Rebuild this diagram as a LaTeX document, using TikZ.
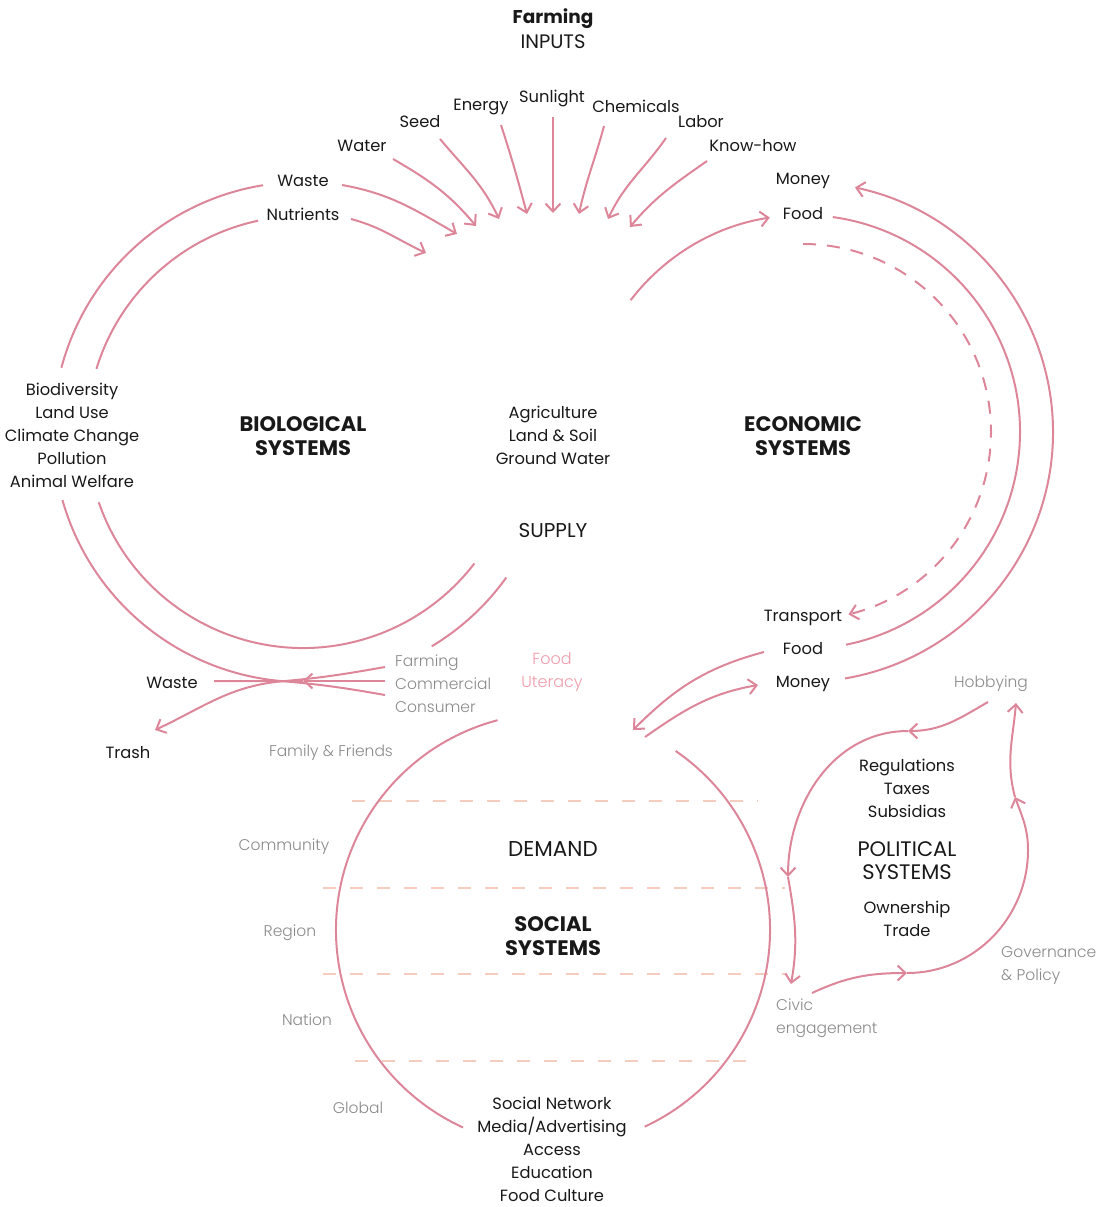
\documentclass[tikz,border=0pt]{standalone}
\usepackage{fontspec}
\setmainfont{Poppins}
\newfontfamily\lightf{Poppins Light}
\usetikzlibrary{arrows.meta}
\definecolor{pk}{RGB}{221,134,153}
\definecolor{pkl}{RGB}{240,155,170}
\definecolor{gr}{RGB}{138,138,138}
\definecolor{tx}{RGB}{25,25,25}
\definecolor{pe}{RGB}{246,204,190}
\begin{document}
\begin{tikzpicture}[x=1pt,y=1pt,
  flow/.style={draw=pk,line width=2pt},
  tip/.style={-{Straight Barb[length=8pt,width=15pt]}},
  dl/.style={draw=pe,line width=2pt,dash pattern=on 13pt off 14pt},
  lbl/.style={text=tx,font=\fontsize{16.3}{23}\selectfont,align=center,inner sep=0pt,yshift=-1pt},
  glbl/.style={text=gr,font=\lightf\fontsize{15.5}{23}\selectfont,align=center,inner sep=0pt,yshift=-1pt},
  plbl/.style={text=pkl,font=\lightf\fontsize{16}{23}\selectfont,align=center,inner sep=0pt,yshift=-1pt},
  ttl/.style={text=tx,font=\bfseries\fontsize{21}{24}\selectfont,align=center,inner sep=0pt,yshift=-1pt},
  capt/.style={text=tx,font=\fontsize{21}{23}\selectfont,align=center,inner sep=0pt,yshift=-1pt}]
\useasboundingbox (0,0) rectangle (1115,-1207);
% ---------- texts
\node[ttl,font=\bfseries\fontsize{18.5}{23}\selectfont] (farm) at (553,-18) {Farming};
\node[capt,font=\fontsize{19.5}{23}\selectfont] (inp) at (553,-41) {INPUTS};
\node[lbl] (nWaste) at (303,-180) {Waste};
\node[lbl] (nNutr) at (303,-213) {Nutrients};
\node[lbl] (nWater) at (362,-145) {Water};
\node[lbl] (nSeed) at (420,-121) {Seed};
\node[lbl] (nEnergy) at (481,-106) {Energy};
\node[lbl] (nSun) at (552,-97) {Sunlight};
\node[lbl] (nChem) at (636,-105) {Chemicals};
\node[lbl] (nLabor) at (701,-121) {Labor};
\node[lbl] (nKnow) at (753,-145) {Know-how};
\node[lbl] (nMoneyT) at (803,-180) {Money};
\node[lbl] (nFoodT) at (803,-213) {Food};
\node[ttl] (bio) at (303,-435) {BIOLOGICAL\\SYSTEMS};
\node[ttl] (eco) at (803,-435) {ECONOMIC\\SYSTEMS};
\node[lbl] (agri) at (553,-434) {Agriculture\\Land \& Soil\\Ground Water};
\node[capt,font=\fontsize{20}{23}\selectfont] (supply) at (553,-530) {SUPPLY};
\node[lbl] (bioList) at (72,-434) {Biodiversity\\Land Use\\Climate Change\\Pollution\\Animal Welfare};
\node[lbl] (transp) at (803,-617) {Transport};
\node[lbl] (foodB) at (803,-648) {Food};
\node[lbl] (moneyB) at (803,-683) {Money};
\node[lbl] (wasteL) at (172,-682) {Waste};
\node[lbl] (trash) at (128,-752) {Trash};
\node[glbl,align=left,anchor=west] (fcc) at (395,-683) {Farming\\Commercial\\Consumer};
\node[plbl] (lit) at (552,-671) {Food\\Uteracy};
\node[glbl] (fam) at (331,-752) {Family \& Friends};
\node[glbl] (commu) at (284,-846) {Community};
\node[glbl] (regi) at (290,-932) {Region};
\node[glbl] (nati) at (307,-1019) {Nation};
\node[glbl] (glob) at (358,-1107) {Global};
\node[capt,font=\fontsize{21.5}{23}\selectfont] (dem) at (553,-848) {DEMAND};
\node[ttl] (soc) at (553,-935) {SOCIAL\\SYSTEMS};
\node[lbl] (socList) at (552,-1148) {Social Network\\Media/Advertising\\Access\\Education\\Food Culture};
\node[glbl] (hob) at (991,-683) {Hobbying};
\node[lbl] (regs) at (907,-787) {Regulations\\Taxes\\Subsidias};
\node[capt] (pol) at (907,-860) {POLITICAL\\SYSTEMS};
\node[lbl] (own) at (907,-918) {Ownership\\Trade};
\node[glbl,align=left,anchor=west] (civ) at (776,-1017) {Civic\\engagement};
\node[glbl,align=left,anchor=west] (gov) at (1001,-965) {Governance\\\& Policy};
% ---------- dashed bands
\draw[dl] (352,-801) -- (758,-801);
\draw[dl] (323,-888) -- (785,-888);
\draw[dl] (323,-974) -- (785,-974);
\draw[dl] (355,-1061) -- (755,-1061);
% ---------- centres
\coordinate (cB) at (303,-432);
\coordinate (cE) at (803,-432);
\coordinate (cS) at (553,-930);
% ---------- input arrows
\draw[flow,tip] (342,-185) to[out=-10,in=150] (457,-234);
\draw[flow,tip] (351,-219) to[out=-15,in=155] (426,-253);
\draw[flow,tip] (393,-159) to[out=-30,in=130] (476,-226);
\draw[flow,tip] (440,-139) to[out=-50,in=115] (499,-219);
\draw[flow,tip] (501,-125) to[out=-72,in=105] (527,-214);
\draw[flow,tip] (553,-117) -- (553,-213);
\draw[flow,tip] (604,-126) to[out=-105,in=78] (579,-214);
\draw[flow,tip] (666,-138) to[out=-125,in=65] (608,-219);
\draw[flow,tip] (707,-161) to[out=-145,in=50] (630,-227);
% ---------- biological rings
\draw[flow] (cB) ++(102:216) arc[start angle=102,end angle=163,radius=216];
\draw[flow] (cB) ++(199:216) arc[start angle=199,end angle=322.5,radius=216];
\draw[flow] (cB) ++(99.2:250) arc[start angle=99.2,end angle=165.1,radius=250];
\draw[flow] (cB) ++(195.8:250) arc[start angle=195.8,end angle=265.4,radius=250] coordinate (merge);
\draw[flow] (cB) ++(324.4:250) arc[start angle=324.4,end angle=301,radius=250];
% ---------- waste merge
\coordinate (mTip) at (303,-681);
\draw[flow] (385,-667) to[out=190,in=5] (merge);
\draw[flow] (385,-695) to[out=170,in=-5] (merge);
\draw[flow,tip] (385,-681) -- (mTip);
\draw[flow] (mTip) -- (merge);
\draw[flow] (merge) -- (214,-681);
\draw[flow,tip] (merge) to[out=185,in=25] (155,-730);
% ---------- economic rings
\draw[flow,tip] (cE) ++(142.6:217) arc[start angle=142.6,end angle=98.8,radius=217];
\draw[flow] (cE) ++(82.1:217) arc[start angle=82.1,end angle=-78.6,radius=217];
\draw[flow,tip] (cE) ++(-80.3:250) arc[start angle=-80.3,end angle=78,radius=250];
\draw[flow,tip,dash pattern=on 13pt off 11pt] (cE) ++(90:188) arc[start angle=90,end angle=-76,radius=188];
% ---------- social circle
\draw[flow] (cS) ++(104.8:217) arc[start angle=104.8,end angle=245.5,radius=217];
\draw[flow] (cS) ++(-65:217) arc[start angle=-65,end angle=55.6,radius=217];
% ---------- food / money exchange
\draw[flow,tip] (764,-652) to[out=195,in=45] (633,-730);
\draw[flow,tip] (645,-737) to[out=35,in=190] (758,-685);
% ---------- political loop
\coordinate (pH1) at (988,-702);
\coordinate (pT) at (908,-731);
\coordinate (pL) at (788,-877);
\coordinate (pC) at (791,-984);
\coordinate (pC1) at (812,-993);
\coordinate (pR1) at (907,-973);
\coordinate (pW) at (1028,-850);
\coordinate (pR2) at (1015,-797);
\coordinate (pH) at (1016,-703);
\draw[flow,tip] (pH1) to[out=-150,in=0] (pT);
\draw[flow,tip] (pT) to[out=180,in=90] (pL);
\draw[flow,tip] (pL) to[out=-80,in=80] (pC);
\draw[flow,tip] (pC1) to[out=25,in=180] (pR1);
\draw[flow,tip] (pR1) to[out=0,in=-90] (pW) to[out=90,in=-70] (pR2);
\draw[flow,tip] (pR2) to[out=105,in=-95] (pH);
\end{tikzpicture}
\end{document}
